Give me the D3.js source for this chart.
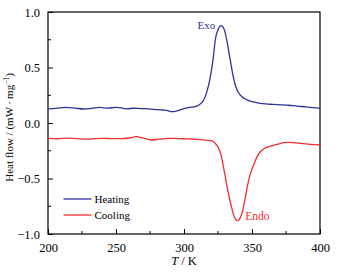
<!DOCTYPE html>
<html>
<head>
<meta charset="utf-8">
<script src="https://d3js.org/d3.v7.min.js"></script>
<style>
  body { margin: 0; background: #fff; }
</style>
</head>
<body>
<div id="chart"></div>
<script>
// temperature (K) and heat flow (mW/mg)
const heatT = [200, 206, 213, 220, 226, 232, 238, 244, 250, 254, 258, 263, 268, 274, 280, 284, 288, 291, 295, 299, 304, 308, 311, 314.5, 317, 319.4, 321.5, 323, 325, 327.2, 329, 330.4, 332, 334, 336, 337.7, 340, 342.6, 346, 350, 355, 360, 365, 371, 377, 383, 390, 395, 400];
const heatV = [0.128, 0.132, 0.141, 0.134, 0.126, 0.132, 0.140, 0.134, 0.141, 0.137, 0.128, 0.133, 0.130, 0.127, 0.121, 0.117, 0.112, 0.102, 0.110, 0.126, 0.140, 0.147, 0.162, 0.207, 0.290, 0.417, 0.585, 0.748, 0.840, 0.877, 0.858, 0.808, 0.710, 0.568, 0.430, 0.342, 0.275, 0.237, 0.210, 0.192, 0.180, 0.172, 0.168, 0.164, 0.160, 0.152, 0.145, 0.138, 0.132];

const coolT = [200, 207, 214, 221, 228, 235, 241, 248, 255, 260, 265, 270, 276, 282, 287, 291, 296, 300, 306, 312, 317, 320.6, 323, 325.5, 327.5, 329.2, 331, 332.9, 334.8, 336.5, 338, 339.5, 341, 342.6, 344.5, 346.3, 348.5, 351.2, 353.5, 356.1, 359, 362.3, 367, 370, 374.5, 380, 387, 393, 400];
const coolV = [-0.138, -0.142, -0.136, -0.140, -0.145, -0.140, -0.138, -0.141, -0.140, -0.135, -0.123, -0.136, -0.153, -0.145, -0.140, -0.138, -0.140, -0.142, -0.144, -0.150, -0.155, -0.162, -0.185, -0.228, -0.300, -0.408, -0.530, -0.649, -0.750, -0.829, -0.868, -0.880, -0.862, -0.814, -0.710, -0.588, -0.470, -0.378, -0.310, -0.259, -0.230, -0.213, -0.198, -0.188, -0.174, -0.176, -0.185, -0.192, -0.198];

const xTicks = [200, 250, 300, 350, 400];
const yTicks = [-1.0, -0.5, 0.0, 0.5, 1.0];
const seriesNames = ["Heating", "Cooling"];
const seriesColors = ["#2f3399", "#f52d2d"];

const serif = "'Liberation Serif', 'Times New Roman', 'DejaVu Serif', serif";

const W = 344, H = 275;
const margin = {top: 12, right: 24, bottom: 41, left: 48};
const width = W - margin.left - margin.right;
const height = H - margin.top - margin.bottom;

const svg = d3.select("#chart").append("svg")
  .attr("width", W)
  .attr("height", H)
  .attr("font-family", serif)
  .append("g")
  .attr("transform", "translate(" + margin.left + "," + margin.top + ")");

const x = d3.scaleLinear().domain([200, 400]).range([0, width]);
const y = d3.scaleLinear().domain([-1, 1]).range([height, 0]);

// frame
svg.append("rect")
  .attr("width", width)
  .attr("height", height)
  .attr("fill", "none")
  .attr("stroke", "#000")
  .attr("stroke-width", 1.2);

// axes with inward ticks
const xAxis = d3.axisBottom(x).tickValues(xTicks).tickSize(-5).tickPadding(9).tickFormat(d3.format("d"));
const yAxis = d3.axisLeft(y).tickValues(yTicks).tickSize(-5).tickPadding(8).tickFormat(d => d3.format(".1f")(d).replace("-", "\u2212"));

const gx = svg.append("g").attr("transform", "translate(0," + height + ")").call(xAxis);
const gy = svg.append("g").call(yAxis);

[gx, gy].forEach(g => {
  g.attr("font-family", serif).attr("font-size", 12.5);
  g.select(".domain").remove();
  g.selectAll("text").attr("fill", "#000");
  g.selectAll("line").attr("stroke", "#000");
});

// minor ticks
[225, 275, 325, 375].forEach(v => {
  svg.append("line").attr("x1", x(v)).attr("x2", x(v))
    .attr("y1", height).attr("y2", height - 3).attr("stroke", "#000");
});
[-0.75, -0.25, 0.25, 0.75].forEach(v => {
  svg.append("line").attr("x1", 0).attr("x2", 3)
    .attr("y1", y(v)).attr("y2", y(v)).attr("stroke", "#000");
});

const line = d3.line()
  .x(d => x(d[0]))
  .y(d => y(d[1]))
  .curve(d3.curveMonotoneX);

const series = [
  heatT.map((t, i) => [t, heatV[i]]),
  coolT.map((t, i) => [t, coolV[i]])
];

series.forEach((s, i) => {
  svg.append("path")
    .datum(s)
    .attr("fill", "none")
    .attr("stroke", seriesColors[i])
    .attr("stroke-width", 1.3)
    .attr("d", line);
});

// annotations
svg.append("text")
  .attr("x", x(323))
  .attr("y", y(0.847))
  .attr("text-anchor", "end")
  .attr("font-size", 11)
  .attr("fill", seriesColors[0])
  .text("Exo");

svg.append("text")
  .attr("x", x(345))
  .attr("y", y(-0.874))
  .attr("font-size", 11.5)
  .attr("fill", seriesColors[1])
  .text("Endo");

// legend
const legend = svg.append("g").attr("transform", "translate(15.5," + (height - 35) + ")");
seriesNames.forEach((name, i) => {
  const row = legend.append("g").attr("transform", "translate(0," + (i * 16) + ")");
  row.append("line").attr("x1", 0).attr("x2", 28).attr("y1", 0).attr("y2", 0)
    .attr("stroke", seriesColors[i]).attr("stroke-width", 1.3);
  row.append("text").attr("x", 31).attr("y", 4).attr("font-size", 11)
    .attr("fill", "#000").text(name);
});

// axis titles
svg.append("text")
  .attr("x", width / 2)
  .attr("y", height + 31)
  .attr("text-anchor", "middle")
  .attr("font-size", 12.5)
  .html('<tspan font-style="italic">T</tspan> / K');

svg.append("text")
  .attr("transform", "translate(" + (-35) + "," + (height / 2 + 4.5) + ") rotate(-90)")
  .attr("text-anchor", "middle")
  .attr("font-size", 11)
  .html('Heat flow / (mW\u2009\u00b7\u2009mg<tspan dy="-4" font-size="7.5">\u22121</tspan><tspan dy="4">)</tspan>');
</script>
</body>
</html>
